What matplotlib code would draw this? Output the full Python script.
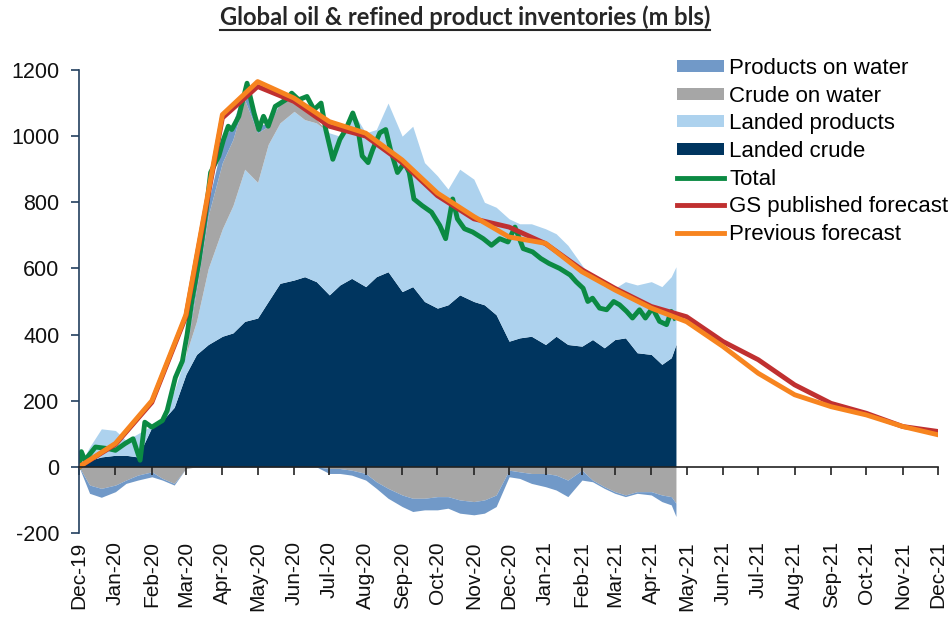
import numpy as np
import pandas as pd
import matplotlib
matplotlib.use("Agg")
import matplotlib.pyplot as plt
import matplotlib.dates as mdates
from matplotlib.lines import Line2D

plt.rcParams['font.family'] = ['Liberation Sans', 'DejaVu Sans']
plt.rcParams['axes.unicode_minus'] = False

# HISTORICAL STOCK COMPONENTS (m bls), read roughly every 10 days
obs_dates = pd.to_datetime([
    "2019-12-01", "2019-12-10", "2019-12-20",
    "2020-01-01", "2020-01-10", "2020-01-20",
    "2020-02-01", "2020-02-10", "2020-02-20",
    "2020-03-01", "2020-03-10", "2020-03-20",
    "2020-04-01", "2020-04-10", "2020-04-20",
    "2020-05-01", "2020-05-10", "2020-05-20",
    "2020-06-01", "2020-06-10", "2020-06-20",
    "2020-07-01", "2020-07-10", "2020-07-20",
    "2020-08-01", "2020-08-10", "2020-08-20",
    "2020-09-01", "2020-09-10", "2020-09-20",
    "2020-10-01", "2020-10-10", "2020-10-20",
    "2020-11-01", "2020-11-10", "2020-11-20",
    "2020-12-01", "2020-12-10", "2020-12-20",
    "2021-01-01", "2021-01-10", "2021-01-20",
    "2021-02-01", "2021-02-10", "2021-02-20",
    "2021-03-01", "2021-03-10", "2021-03-20",
    "2021-04-01", "2021-04-10", "2021-04-18", "2021-04-22",
])
landed_crude = np.array([
    0, 20, 30, 35, 35, 30, 120, 140, 180, 280, 340, 370, 395, 405, 440,
    450, 500, 555, 565, 575, 560, 520, 550, 570, 545, 575, 590, 530, 545, 500,
    480, 490, 520, 500, 490, 460, 380, 390, 395, 370, 395, 370, 365, 385, 360,
    385, 390, 345, 340, 310, 330, 370])
landed_products = np.array([
    0, 40, 85, 75, 45, 70, 5, 5, 50, 60, 100, 230, 325, 385, 460,
    410, 475, 485, 510, 475, 480, 490, 450, 510, 465, 445, 510, 470, 485, 420,
    400, 350, 380, 370, 310, 325, 370, 345, 340, 350, 310, 300, 245, 185, 185,
    155, 170, 205, 220, 235, 245, 235])
crude_on_water = np.array([
    0, -55, -65, -55, -40, -25, -15, -35, -50, -5, 100, 160, 200, 200, 210,
    150, 55, 60, 50, 40, 10, -5, -5, -10, -20, -45, -65, -85, -95, -95,
    -90, -90, -100, -105, -100, -85, -10, -15, -20, -20, -25, -40, -10, -40, -60,
    -75, -85, -75, -75, -85, -90, -110])
products_on_water = np.array([
    0, -25, -27, -20, -10, -15, -15, -5, -5, 0, 20, 40, 60, 50, 40,
    20, 10, 0, 0, 0, 0, -15, -15, -15, -20, -20, -30, -35, -40, -35,
    -40, -35, -40, -40, -40, -35, -20, -20, -30, -40, -45, -50, -30, -5, -5,
    -5, -5, -5, -10, -20, -25, -40])

# TOTAL LINE, read at its turning points
total_dates = pd.to_datetime([
    "2019-12-01", "2019-12-03", "2019-12-06", "2019-12-15", "2019-12-26",
    "2020-01-01", "2020-01-09", "2020-01-16", "2020-01-22", "2020-01-26",
    "2020-02-01", "2020-02-10", "2020-02-14", "2020-02-21", "2020-02-27",
    "2020-03-02", "2020-03-06", "2020-03-12", "2020-03-18", "2020-03-22",
    "2020-03-29", "2020-04-02", "2020-04-06", "2020-04-09", "2020-04-15",
    "2020-04-22", "2020-04-28", "2020-05-02", "2020-05-06", "2020-05-10",
    "2020-05-16", "2020-05-25", "2020-05-30", "2020-06-05", "2020-06-12",
    "2020-06-18", "2020-06-24", "2020-06-28", "2020-07-04", "2020-07-10",
    "2020-07-15", "2020-07-21", "2020-07-25", "2020-07-29", "2020-08-03",
    "2020-08-07", "2020-08-13", "2020-08-18", "2020-08-22", "2020-08-28",
    "2020-09-03", "2020-09-07", "2020-09-11", "2020-09-18", "2020-09-26",
    "2020-10-03", "2020-10-08", "2020-10-14", "2020-10-18", "2020-10-24",
    "2020-10-31", "2020-11-09", "2020-11-16", "2020-11-23", "2020-11-30",
    "2020-12-06", "2020-12-13", "2020-12-21", "2020-12-28", "2021-01-04",
    "2021-01-13", "2021-01-22", "2021-01-27", "2021-02-02", "2021-02-06",
    "2021-02-10", "2021-02-16", "2021-02-22", "2021-02-28", "2021-03-05",
    "2021-03-11", "2021-03-16", "2021-03-22", "2021-03-27", "2021-04-02",
    "2021-04-08", "2021-04-14", "2021-04-18", "2021-04-21",
])
total = np.array([
    0, 46, 20, 60, 55, 50, 70, 85, 20, 135,
    120, 140, 170, 270, 320, 400, 500, 620, 770, 890,
    940, 990, 1030, 1020, 1060, 1160, 1070, 1020, 1060, 1030,
    1090, 1110, 1130, 1110, 1120, 1080, 1100, 1020, 930, 990,
    1020, 1070, 1030, 940, 920, 960, 1010, 1020, 960, 890,
    920, 890, 810, 790, 770, 730, 690, 810, 750, 720,
    710, 690, 670, 690, 680, 725, 660, 650, 630, 615,
    600, 580, 560, 540, 500, 510, 480, 475, 500, 490,
    470, 450, 475, 450, 480, 440, 430, 470, 450])

# MONTHLY FORECASTS
fc_dates = pd.date_range("2019-12-01", "2021-12-01", freq="MS")
gs_forecast = [0, 68, 195, 455, 1055, 1150, 1105, 1030, 1000, 920, 820, 750, 725,
               675, 596, 540, 485, 454, 379, 324, 248, 192, 162, 122, 107]
prev_forecast = [0, 71, 200, 460, 1065, 1165, 1115, 1044, 1009, 928, 828, 757, 695,
                 676, 590, 535, 480, 439, 364, 283, 218, 182, 157, 122, 97]

# COLOURS
c_navy = "#00355f"
c_light = "#add2ee"
c_grey = "#a6a6a6"
c_mid = "#7199c8"
c_green = "#0b8a43"
c_red = "#c03030"
c_orange = "#f7841f"

fig = plt.figure(figsize=(9.51, 6.23), dpi=100)
ax = fig.add_axes([79 / 951, 1 - 533 / 623, (938 - 79) / 951, (533 - 70) / 623])

# STACK POSITIVE PARTS ABOVE LANDED, NEGATIVE PARTS BELOW ZERO
landed_top = landed_crude + landed_products
cw_pos = np.clip(crude_on_water, 0, None)
pw_pos = np.clip(products_on_water, 0, None)
cw_neg = np.clip(crude_on_water, None, 0)
pw_neg = np.clip(products_on_water, None, 0)

h_crude = ax.fill_between(obs_dates, 0, landed_crude, color=c_navy, lw=0, label="Landed crude")
h_prod = ax.fill_between(obs_dates, landed_crude, landed_top, color=c_light, lw=0, label="Landed products")
h_cw = ax.fill_between(obs_dates, landed_top, landed_top + cw_pos, color=c_grey, lw=0, label="Crude on water")
h_pw = ax.fill_between(obs_dates, landed_top + cw_pos, landed_top + cw_pos + pw_pos, color=c_mid, lw=0,
                       label="Products on water")
ax.fill_between(obs_dates, 0, cw_neg, color=c_grey, lw=0)
ax.fill_between(obs_dates, cw_neg, cw_neg + pw_neg, color=c_mid, lw=0)

h_tot, = ax.plot(total_dates, total, color=c_green, lw=3.5, label="Total")
h_gs, = ax.plot(fc_dates, gs_forecast, color=c_red, lw=3.5, label="GS published forecast")
h_prev, = ax.plot(fc_dates, prev_forecast, color=c_orange, lw=3.5, label="Previous forecast")

ax.set_xlim(pd.Timestamp("2019-12-01"), pd.Timestamp("2021-12-01"))
ax.set_ylim(-200, 1200)
ax.set_yticks(range(-200, 1201, 200))

for side in ("top", "right"):
    ax.spines[side].set_visible(False)
ax.spines["left"].set_color("#23405f")
ax.spines["left"].set_linewidth(1.2)
ax.spines["bottom"].set_position(("data", 0))
ax.spines["bottom"].set_color("#222222")
ax.spines["bottom"].set_linewidth(1.2)

ax.xaxis.set_major_locator(mdates.MonthLocator())
ax.tick_params(axis="x", direction="out", length=6, width=1.2, color="#222222", labelbottom=False)
ax.tick_params(axis="y", direction="out", length=6, width=1.2, color="#23405f",
               labelsize=15.5, pad=8, labelcolor="#111111")

# month labels sit at the bottom of the plot, not on the zero line
sec = ax.secondary_xaxis("bottom")
sec.xaxis.set_major_locator(mdates.MonthLocator())
sec.xaxis.set_major_formatter(mdates.DateFormatter("%b-%y"))
sec.spines["bottom"].set_visible(False)
sec.tick_params(axis="x", length=0, pad=6, labelsize=15, labelrotation=90, labelcolor="#111111")

handles = [h_pw, h_cw, h_prod, h_crude, h_tot, h_gs, h_prev]
fig.legend(handles=handles, labels=[h.get_label() for h in handles],
           loc="upper left", bbox_to_anchor=(677 / 951, 1 - 58 / 623),
           frameon=False, fontsize=16, borderpad=0, borderaxespad=0,
           labelspacing=0.3, handlelength=2.1, handleheight=0.45, handletextpad=0.25)

# TITLE, fitted to the reference width and underlined by hand
title = fig.text(465 / 951, 1 - 25 / 623, "Global oil & refined product inventories (m bls)",
                 ha="center", va="baseline", fontsize=15, fontweight="bold",
                 family=["Lato", "DejaVu Sans"], color="#262626")
fig.canvas.draw()
w = title.get_window_extent().width
title.set_fontsize(15 * 495 / w)
fig.canvas.draw()
bb = title.get_window_extent()
fig.add_artist(Line2D([bb.x0 / 951, bb.x1 / 951], [1 - 30 / 623, 1 - 30 / 623],
                      transform=fig.transFigure, color="#262626", lw=1.5))

fig.savefig("out.png", dpi=100)
